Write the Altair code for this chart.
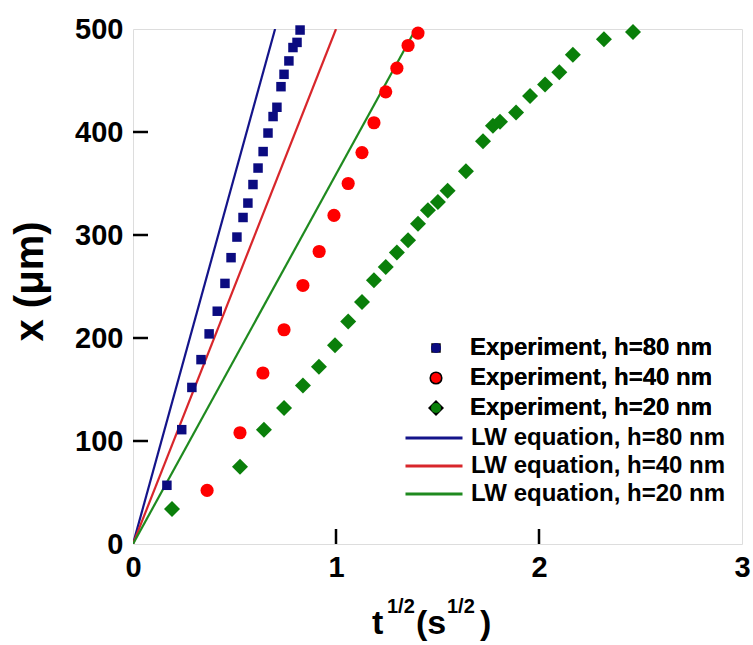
import altair as alt
import pandas as pd

# ---- data ----
exp_labels = ["Experiment, h=80 nm", "Experiment, h=40 nm", "Experiment, h=20 nm"]
lw_labels = ["LW equation, h=80 nm", "LW equation, h=40 nm", "LW equation, h=20 nm"]

t_exp80 = [0.167, 0.24, 0.29, 0.335, 0.375, 0.415, 0.453, 0.483, 0.512, 0.542, 0.566, 0.591,
           0.616, 0.641, 0.665, 0.69, 0.709, 0.729, 0.744, 0.768, 0.788, 0.808, 0.823]
x_exp80 = [57, 111, 152, 179, 204, 226, 253, 278, 298, 317, 331, 349,
           365, 381, 399, 415, 424, 444, 456, 469, 482, 487, 499]

t_exp40 = [0.365, 0.527, 0.64, 0.744, 0.837, 0.917, 0.99, 1.06, 1.128, 1.187, 1.245, 1.30, 1.355, 1.404]
x_exp40 = [52, 108, 166, 208, 251, 284, 319, 350, 380, 409, 439, 462, 484, 496]

t_exp20 = [0.192, 0.527, 0.645, 0.744, 0.837, 0.916, 0.995, 1.06, 1.128, 1.187, 1.245, 1.30, 1.355,
           1.404, 1.453, 1.502, 1.55, 1.64, 1.724, 1.773, 1.808, 1.887, 1.956, 2.03, 2.1, 2.167,
           2.32, 2.463]
x_exp20 = [34, 75, 111, 132, 154, 172, 193, 216, 235, 256, 269, 283, 295,
           311, 324, 332, 343, 362, 391, 406, 410, 419, 435, 446, 458, 475, 490, 497]

# LW equation lines: straight lines from the origin to the top of the plot
lw_t = [[0.0, 0.70], [0.0, 1.0], [0.0, 1.393]]
lw_x = [[0, 500], [0, 500], [0, 500]]

exp_colors = ["#0b0b80", "#ff0000", "#0a7f0a"]
exp_shapes = ["square", "circle", "diamond"]
exp_sizes = [90, 256, 215]
lw_colors = ["#14148a", "#d8262b", "#1f8a1f"]

x_ticks = [1, 2]
y_ticks = [100, 200, 300, 400]
x_labels = [0, 1, 2, 3]
y_labels = [0, 100, 200, 300, 400, 500]

# ---- tables ----
exp_rows = []
for lab, ts, xs in zip(exp_labels, [t_exp80, t_exp40, t_exp20], [x_exp80, x_exp40, x_exp20]):
    for t, x in zip(ts, xs):
        exp_rows.append({"t": t, "x": x, "series": lab})
exp_df = pd.DataFrame(exp_rows)

lw_rows = []
for lab, ts, xs in zip(lw_labels, lw_t, lw_x):
    for i, (t, x) in enumerate(zip(ts, xs)):
        lw_rows.append({"t": t, "x": x, "series": lab, "o": i})
lw_df = pd.DataFrame(lw_rows)

FONT = "Liberation Sans"
W, H = 609, 515

xscale = alt.Scale(domain=[0, 3], nice=False)
yscale = alt.Scale(domain=[0, 500], nice=False)

xaxis = alt.Axis(values=x_labels, format="d", title=None, grid=False, domain=False, ticks=False,
                 labelFont=FONT, labelFontSize=29, labelFontWeight="bold", labelColor="black",
                 labelPadding=9, labelFlush=False)
yaxis = alt.Axis(values=y_labels, format="d", title="x (μm)", grid=False, domain=False, ticks=False,
                 labelFont=FONT, labelFontSize=29, labelFontWeight="bold", labelColor="black",
                 labelPadding=10, labelFlush=False,
                 titleFont=FONT, titleFontSize=40, titleFontWeight="bold", titleColor="black",
                 titleX=-103, titleY=252, titleAlign="center", titleBaseline="middle", titleAngle=270)

exp_legend = alt.Legend(title=None, orient="none", legendX=291, legendY=307,
                        labelFont=FONT, labelFontSize=24, labelFontWeight="bold",
                        labelColor="black", labelOffset=22, labelLimit=0,
                        rowPadding=6, padding=0, symbolOpacity=1, symbolStrokeWidth=0,
                        symbolStrokeColor="transparent")

points = alt.Chart(exp_df).mark_point(filled=True, opacity=1, strokeWidth=0).encode(
    x=alt.X("t:Q", scale=xscale, axis=xaxis),
    y=alt.Y("x:Q", scale=yscale, axis=yaxis),
    color=alt.Color("series:N", scale=alt.Scale(domain=exp_labels, range=exp_colors), legend=exp_legend),
    shape=alt.Shape("series:N", scale=alt.Scale(domain=exp_labels, range=exp_shapes), legend=exp_legend),
    size=alt.Size("series:N", scale=alt.Scale(domain=exp_labels, range=exp_sizes), legend=exp_legend),
)

lines = alt.Chart(lw_df).mark_line(strokeWidth=2.2, clip=True).encode(
    x=alt.X("t:Q", scale=xscale),
    y=alt.Y("x:Q", scale=yscale),
    stroke=alt.Stroke("series:N", scale=alt.Scale(domain=lw_labels, range=lw_colors),
                      legend=alt.Legend(title=None, orient="none", legendX=289, legendY=397,
                                        labelFont=FONT, labelFontSize=24, labelFontWeight="bold",
                                        labelColor="black", symbolType="M-5,0H5", symbolSize=130,
                                        symbolStrokeWidth=3, labelOffset=25, labelLimit=0,
                                        rowPadding=4, padding=0)),
    order="o:Q",
    detail="series:N",
)

ytick_rules = alt.Chart(pd.DataFrame({"v": y_ticks})).mark_rule(color="black", strokeWidth=2.5).encode(
    y=alt.Y("v:Q", scale=yscale), x=alt.value(0), x2=alt.value(15))
xtick_rules = alt.Chart(pd.DataFrame({"v": x_ticks})).mark_rule(color="black", strokeWidth=2.5).encode(
    x=alt.X("v:Q", scale=xscale), y=alt.value(H), y2=alt.value(H - 15))

# x-axis title with superscripts: t^{1/2}(s^{1/2})
one = pd.DataFrame({"a": [0]})
def piece(txt, x, y, size):
    return alt.Chart(one).mark_text(text=txt, font=FONT, fontWeight="bold", fontSize=size,
                                    color="black", align="left", baseline="alphabetic").encode(
        x=alt.value(x), y=alt.value(y))

title_parts = [
    piece("t", 239, 605, 34),
    piece("1/2", 254, 584, 20),
    piece("(s", 283, 605, 34),
    piece("1/2", 314, 584, 20),
    piece(")", 347, 605, 34),
]

chart = alt.layer(lines, points, ytick_rules, xtick_rules, *title_parts).resolve_scale(
    color="independent", stroke="independent"
).properties(
    width=W, height=H,
    autosize=alt.AutoSizeParams(type="none"),
    padding={"left": 133, "top": 29, "right": 11, "bottom": 101},
).configure_view(stroke="black", strokeWidth=2.5).configure(background="white")

chart.save("out.html", embed_options={"renderer": "svg", "actions": False})
